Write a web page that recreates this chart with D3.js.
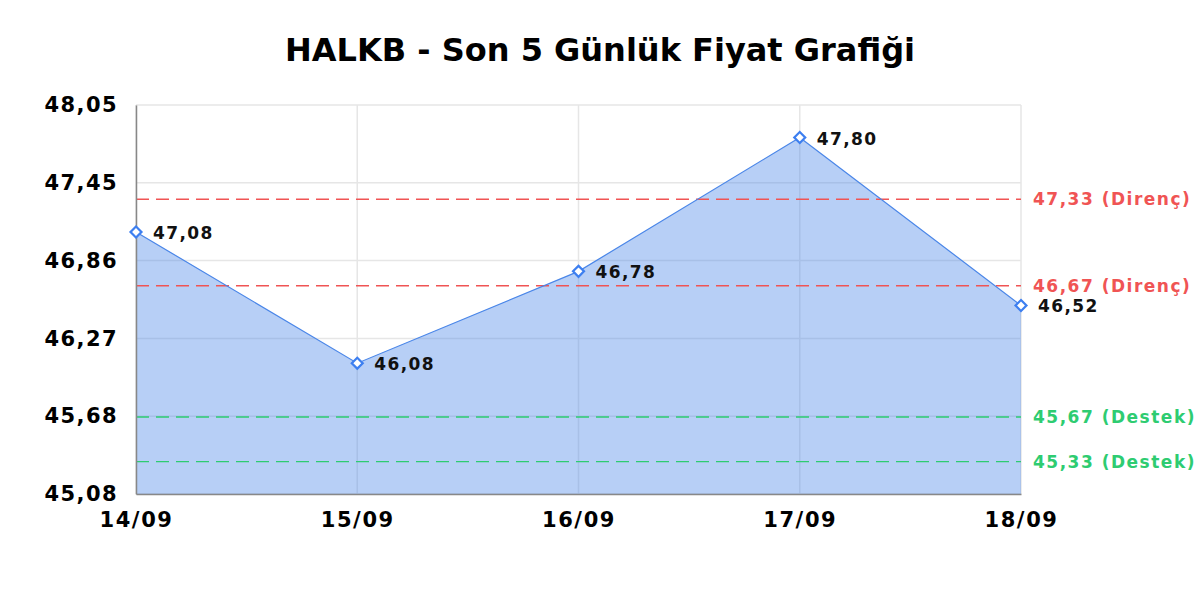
<!DOCTYPE html>
<html lang="tr">
<head>
<meta charset="UTF-8">
<title>HALKB</title>
<style>
    body { margin: 0; background: #fff; }
    text { font-family: "DejaVu Sans", sans-serif; font-weight: bold; }
</style>
</head>
<body>
<div id="chart"></div>
<script src="https://d3js.org/d3.v7.min.js"></script>
<script>
    const dates = ["14/09", "15/09", "16/09", "17/09", "18/09"];
    const prices = [47.08, 46.08, 46.78, 47.80, 46.52];
    const priceLabels = ["47,08", "46,08", "46,78", "47,80", "46,52"];

    const yTickLabels = ["45,08", "45,68", "46,27", "46,86", "47,45", "48,05"];
    const yMin = 45.083, yMax = 48.048;

    const levelValues = [47.33, 46.67, 45.67, 45.33];
    const levelLabels = ["47,33 (Direnç)", "46,67 (Direnç)", "45,67 (Destek)", "45,33 (Destek)"];
    const levelKinds = ["r", "r", "s", "s"];

    const width = 1200, height = 600;
    const margin = {top: 105, right: 179, bottom: 106, left: 136};

    const svg = d3.select("#chart").append("svg")
        .attr("width", width)
        .attr("height", height);

    svg.append("text")
        .attr("x", 600)
        .attr("y", 61)
        .attr("text-anchor", "middle")
        .attr("font-size", 32)
        .text("HALKB - Son 5 Günlük Fiyat Grafiği");

    const x = d3.scalePoint()
        .domain(dates)
        .range([margin.left, width - margin.right]);

    const y = d3.scaleLinear()
        .domain([yMin, yMax])
        .range([height - margin.bottom, margin.top]);

    const yTicks = d3.range(yTickLabels.length).map(i => yMin + i * (yMax - yMin) / (yTickLabels.length - 1));

    // grid
    svg.append("g").selectAll("line")
        .data(yTicks)
        .enter().append("line")
        .attr("x1", margin.left).attr("x2", width - margin.right)
        .attr("y1", d => y(d)).attr("y2", d => y(d))
        .attr("stroke", "#e6e6e6").attr("stroke-width", 1.5);

    svg.append("g").selectAll("line")
        .data(dates)
        .enter().append("line")
        .attr("x1", d => x(d)).attr("x2", d => x(d))
        .attr("y1", margin.top).attr("y2", height - margin.bottom)
        .attr("stroke", "#e6e6e6").attr("stroke-width", 1.5);

    const pts = dates.map((d, i) => ({date: d, v: prices[i], label: priceLabels[i]}));

    const area = d3.area()
        .x(d => x(d.date))
        .y0(y(yMin))
        .y1(d => y(d.v));

    svg.append("path")
        .datum(pts)
        .attr("d", area)
        .attr("fill", "rgba(74, 134, 232, 0.4)");

    // support / resistance lines
    levelValues.forEach((v, i) => {
        const col = levelKinds[i] === "r" ? "#f05454" : "#2ecc71";
        svg.append("line")
            .attr("x1", margin.left).attr("x2", width - margin.right)
            .attr("y1", y(v)).attr("y2", y(v))
            .attr("stroke", col).attr("stroke-width", 1.4)
            .attr("stroke-dasharray", "13,7");
        svg.append("text")
            .attr("x", width - margin.right + 12)
            .attr("y", y(v) + 6)
            .attr("font-size", 17)
            .attr("letter-spacing", 1.5)
            .attr("fill", col)
            .text(levelLabels[i]);
    });

    const line = d3.line()
        .x(d => x(d.date))
        .y(d => y(d.v));

    svg.append("path")
        .datum(pts)
        .attr("d", line)
        .attr("fill", "none")
        .attr("stroke", "#4a86e8")
        .attr("stroke-width", 1.2);

    // axes
    const yAxis = d3.axisLeft(y)
        .tickValues(yTicks)
        .tickSize(0)
        .tickPadding(18)
        .tickFormat((d, i) => yTickLabels[i]);

    const gy = svg.append("g")
        .attr("transform", `translate(${margin.left},0)`)
        .call(yAxis);
    gy.select(".domain").attr("stroke", "#888").attr("stroke-width", 1.5);
    gy.selectAll("text").attr("font-size", 21).attr("fill", "#000")
        .attr("letter-spacing", 1.4)
        .attr("font-family", "DejaVu Sans").attr("font-weight", "bold");

    const xAxis = d3.axisBottom(x)
        .tickSize(0)
        .tickPadding(18);

    const gx = svg.append("g")
        .attr("transform", `translate(0,${height - margin.bottom})`)
        .call(xAxis);
    gx.select(".domain").attr("stroke", "#888").attr("stroke-width", 1.5);
    gx.selectAll("text").attr("font-size", 21).attr("fill", "#000")
        .attr("letter-spacing", 1.6)
        .attr("font-family", "DejaVu Sans").attr("font-weight", "bold");

    // markers
    svg.append("g").selectAll("path")
        .data(pts)
        .enter().append("path")
        .attr("d", d3.symbol().type(d3.symbolSquare).size(60))
        .attr("transform", d => `translate(${x(d.date)},${y(d.v)}) rotate(45)`)
        .attr("fill", "#fff")
        .attr("stroke", "#3d7ff0")
        .attr("stroke-width", 2.2);

    svg.append("g").selectAll("text")
        .data(pts)
        .enter().append("text")
        .attr("x", d => x(d.date) + 17)
        .attr("y", d => y(d.v) + 7)
        .attr("font-size", 17)
        .attr("letter-spacing", 1.4)
        .attr("fill", "#111")
        .text(d => d.label);
</script>
</body>
</html>
